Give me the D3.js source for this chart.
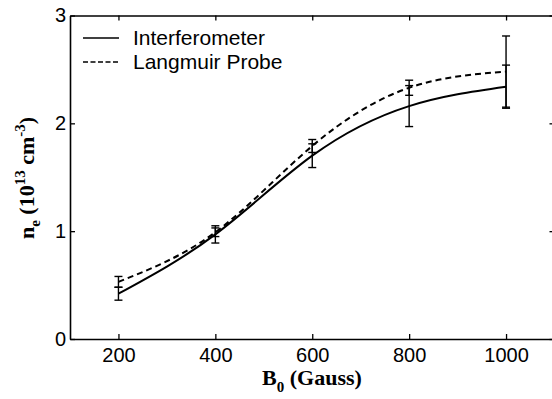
<!DOCTYPE html>
<head>
    <meta charset="UTF-8">
    <title>Density vs magnetic field</title>
</head>
<style>
    body {
        margin: 0;
        background: #fff;
    }

    .tick text {
        font: 20px "Liberation Sans", Arial, sans-serif;
        fill: #000;
    }

    .axis-title {
        font: bold 22px "Liberation Serif", "Times New Roman", serif;
    }

    .legend text {
        font: 21px "Liberation Sans", Arial, sans-serif;
    }
</style>
<body>

    <script src="https://cdn.jsdelivr.net/npm/d3@7"></script>
    <script>
        // magnetic field (Gauss)
        var fields = [200, 400, 600, 800, 1000];

        // density, 10^13 cm^-3
        var interferometer = [0.42, 0.97, 1.70, 2.16, 2.34];
        var interferometerErr = [0.06, 0.08, 0.11, 0.19, 0.20];

        var langmuir = [0.53, 0.99, 1.79, 2.33, 2.48];
        var langmuirErr = [0.05, 0.04, 0.06, 0.07, 0.33];

        var xTicks = [200, 400, 600, 800, 1000];
        var yTicks = [0, 1, 2, 3];

        var series = [
            { name: "Interferometer", values: interferometer, err: interferometerErr, dash: null, legendDash: null },
            { name: "Langmuir Probe", values: langmuir, err: langmuirErr, dash: "6,4", legendDash: "5,2.5" }
        ];

        var width = 552, height = 399;

        var x = d3.scaleLinear()
            .domain([100, 1100])
            .range([70, 554.5]);

        var y = d3.scaleLinear()
            .domain([0, 3])
            .range([339, 15.5]);

        var svg = d3.select("body").append("svg")
            .attr("width", width)
            .attr("height", height);

        // axes, ticks point inward on all four sides
        svg.append("g")
            .attr("class", "axis")
            .attr("transform", "translate(0," + y(0) + ")")
            .call(d3.axisBottom(x).tickValues(xTicks).tickSizeInner(-5).tickSizeOuter(0).tickPadding(9).tickFormat(d3.format("d")));

        svg.append("g")
            .attr("class", "axis")
            .attr("transform", "translate(0," + y(3) + ")")
            .call(d3.axisTop(x).tickValues(xTicks).tickSizeInner(-5).tickSizeOuter(0).tickFormat(""));

        svg.append("g")
            .attr("class", "axis")
            .attr("transform", "translate(" + x(100) + ",0)")
            .call(d3.axisLeft(y).tickValues(yTicks).tickSizeInner(-5).tickSizeOuter(0).tickPadding(4).tickFormat(d3.format("d")));

        svg.append("g")
            .attr("class", "axis")
            .attr("transform", "translate(" + x(1100) + ",0)")
            .call(d3.axisRight(y).tickValues(yTicks).tickSizeInner(-5).tickSizeOuter(0).tickFormat(""));

        svg.selectAll(".axis path").attr("stroke-width", 1.6);
        svg.selectAll(".axis line").attr("stroke-width", 1.3);

        var line = d3.line()
            .x(function(d) { return x(d.f); })
            .y(function(d) { return y(d.v); })
            .curve(d3.curveNatural);

        series.forEach(function(s) {
            var pts = fields.map(function(f, i) { return { f: f, v: s.values[i], e: s.err[i] }; });

            svg.append("path")
                .datum(pts)
                .attr("fill", "none")
                .attr("stroke", "#000")
                .attr("stroke-width", 2)
                .attr("stroke-dasharray", s.dash)
                .attr("d", line);

            var bars = svg.append("g")
                .attr("stroke", "#000")
                .attr("stroke-width", 1.4)
                .selectAll("g")
                .data(pts)
                .enter().append("g");

            bars.append("line")
                .attr("x1", function(d) { return x(d.f); })
                .attr("x2", function(d) { return x(d.f); })
                .attr("y1", function(d) { return y(d.v - d.e); })
                .attr("y2", function(d) { return y(d.v + d.e); });

            [-1, 1].forEach(function(sign) {
                bars.append("line")
                    .attr("x1", function(d) { return x(d.f) - 4; })
                    .attr("x2", function(d) { return x(d.f) + 4; })
                    .attr("y1", function(d) { return y(d.v + sign * d.e); })
                    .attr("y2", function(d) { return y(d.v + sign * d.e); });
            });
        });

        // legend
        var legend = svg.append("g")
            .attr("class", "legend")
            .selectAll("g")
            .data(series)
            .enter().append("g")
            .attr("transform", function(d, i) { return "translate(0," + (38 + i * 24) + ")"; });

        legend.append("line")
            .attr("x1", 83)
            .attr("x2", 119)
            .attr("stroke", "#000")
            .attr("stroke-width", 1.5)
            .attr("stroke-dasharray", function(d) { return d.legendDash; });

        legend.append("text")
            .attr("x", 133)
            .attr("y", 7)
            .text(function(d) { return d.name; });

        // axis titles
        var xt = svg.append("text")
            .attr("class", "axis-title")
            .attr("x", 312)
            .attr("y", 385)
            .attr("text-anchor", "middle");
        xt.append("tspan").text("B");
        xt.append("tspan").attr("dy", 7).attr("font-size", 15).text("0");
        xt.append("tspan").attr("dy", -7).text(" (Gauss)");

        var yt = svg.append("text")
            .attr("class", "axis-title")
            .attr("transform", "translate(34,178) rotate(-90)")
            .attr("text-anchor", "middle");
        yt.append("tspan").text("n");
        yt.append("tspan").attr("dy", 6).attr("font-size", 15).text("e");
        yt.append("tspan").attr("dy", -6).text(" (10");
        yt.append("tspan").attr("dy", -9).attr("font-size", 15).text("13");
        yt.append("tspan").attr("dy", 9).text(" cm");
        yt.append("tspan").attr("dy", -9).attr("font-size", 15).text("-3");
        yt.append("tspan").attr("dy", 9).text(")");
    </script>
</body>
</html>
